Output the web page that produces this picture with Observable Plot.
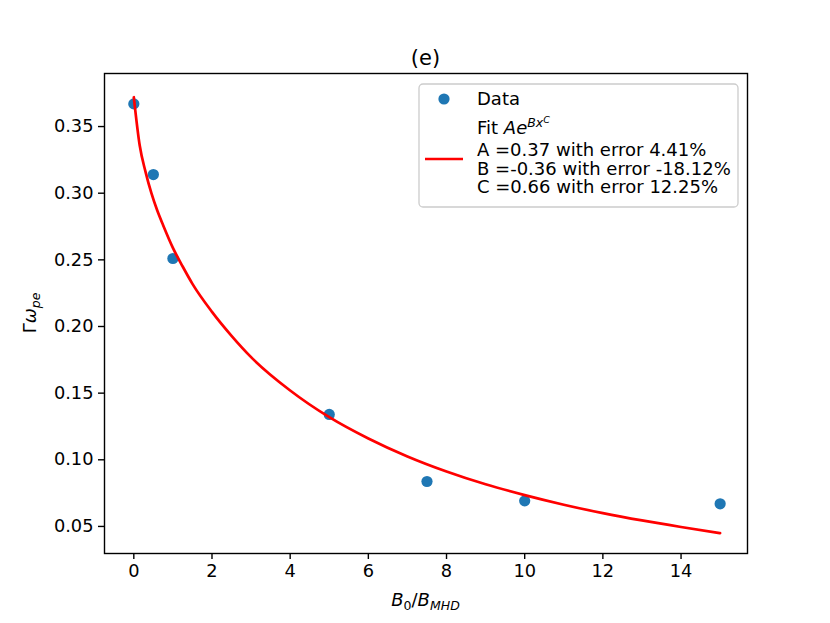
<!DOCTYPE html>
<html>
<head>
<meta charset="utf-8">
<script src="https://cdn.jsdelivr.net/npm/d3@7"></script>
<script src="https://cdn.jsdelivr.net/npm/@observablehq/plot@0.6"></script>
<style>
  html, body { margin: 0; padding: 0; background: white; }
  #chart svg { display: block; }
</style>
</head>
<body>
<div id="chart"></div>
<script>
// Measured data points
const dataX = [0, 0.5, 1, 5, 7.5, 10, 15];
const dataY = [0.367, 0.314, 0.251, 0.134, 0.0837, 0.0692, 0.0670];

// Fitted curve
const fitX = [0, 0.15, 0.3, 0.45, 0.6, 0.75, 1, 1.25, 1.5, 2, 2.5, 3, 4, 5, 6, 7, 8, 9, 10, 11, 12, 13, 14, 15];
const fitY = [0.372, 0.336, 0.316, 0.300, 0.287, 0.276, 0.259, 0.245, 0.232, 0.211, 0.193, 0.177, 0.152, 0.132, 0.116, 0.1025, 0.0912, 0.0816, 0.0735, 0.0663, 0.0600, 0.0545, 0.0496, 0.0450];

// Tick labels
const xTicks = [0, 2, 4, 6, 8, 10, 12, 14];
const yTicks = [0.05, 0.10, 0.15, 0.20, 0.25, 0.30, 0.35];

const title = "(e)";
const legendLines = ["A =0.37 with error 4.41%", "B =-0.36 with error -18.12%", "C =0.66 with error 12.25%"];

const points = dataX.map((x, i) => ({x, y: dataY[i]}));
const fit = fitX.map((x, i) => ({x, y: fitY[i]}));

const font = "'DejaVu Sans', sans-serif";

const chart = Plot.plot({
  width: 830,
  height: 623,
  marginLeft: 104,
  marginRight: 83,
  marginTop: 73,
  marginBottom: 70,
  style: {fontFamily: font, fontSize: "17.8px", color: "#000", background: "white", overflow: "visible"},
  x: {domain: [-0.75, 15.7]},
  y: {domain: [0.0297, 0.3898]},
  marks: [
    Plot.dot(points, {x: "x", y: "y", r: 5.6, fill: "#1f77b4", stroke: "none"}),
    Plot.line(fit, {x: "x", y: "y", stroke: "red", strokeWidth: 2.7, curve: "monotone-x"}),
    Plot.frame({stroke: "black", strokeWidth: 1.4}),
    Plot.axisX({ticks: xTicks, tickSize: 6, tickPadding: 5, strokeWidth: 1.4, label: null, tickFormat: d => String(d)}),
    Plot.axisY({ticks: yTicks, tickSize: 6, tickPadding: 5, strokeWidth: 1.4, label: null, tickFormat: d => d.toFixed(2)})
  ]
});

document.getElementById("chart").appendChild(chart);

const svg = d3.select(chart);

// Title
svg.append("text")
  .attr("x", 425.5).attr("y", 65)
  .attr("text-anchor", "middle")
  .attr("font-family", font).attr("font-size", 21)
  .attr("fill", "black")
  .text(title);

// Y label: Γω_pe
const yl = svg.append("text")
  .attr("transform", "translate(36,313) rotate(-90)")
  .attr("text-anchor", "middle")
  .attr("font-family", font).attr("font-size", 18).attr("fill", "black");
yl.append("tspan").text("Γ");
yl.append("tspan").attr("font-style", "italic").text("ω");
yl.append("tspan").attr("font-style", "italic").attr("font-size", 12.5).attr("dy", 4).text("pe");

// X label: B_0/B_MHD
const xl = svg.append("text")
  .attr("x", 425.5).attr("y", 606)
  .attr("text-anchor", "middle")
  .attr("font-family", font).attr("font-size", 18).attr("fill", "black");
xl.append("tspan").attr("font-style", "italic").text("B");
xl.append("tspan").attr("font-size", 12.5).attr("dy", 4).text("0");
xl.append("tspan").attr("dy", -4).text("/");
xl.append("tspan").attr("font-style", "italic").text("B");
xl.append("tspan").attr("font-style", "italic").attr("font-size", 12.5).attr("dy", 4).text("MHD");

// Legend
const lg = svg.append("g");
lg.append("rect")
  .attr("x", 419).attr("y", 84).attr("width", 319).attr("height", 123)
  .attr("rx", 4).attr("fill", "white").attr("fill-opacity", 0.8)
  .attr("stroke", "#cccccc").attr("stroke-width", 1.3);
lg.append("circle").attr("cx", 444).attr("cy", 99).attr("r", 5.6).attr("fill", "#1f77b4");
lg.append("line").attr("x1", 425).attr("x2", 463).attr("y1", 159).attr("y2", 159)
  .attr("stroke", "red").attr("stroke-width", 2.7);
lg.append("text").attr("x", 477).attr("y", 105)
  .attr("text-anchor", "start")
  .attr("font-family", font).attr("font-size", 18).attr("fill", "black")
  .text("Data");
// Fit entry as one multi-line text
const ft = lg.append("text")
  .attr("text-anchor", "start")
  .attr("font-family", font).attr("font-size", 18).attr("fill", "black");
ft.append("tspan").attr("x", 477).attr("y", 134).text("Fit ");
ft.append("tspan").attr("font-style", "italic").text("Ae");
ft.append("tspan").attr("font-style", "italic").attr("font-size", 12.5).attr("dy", -7).text("Bx");
ft.append("tspan").attr("font-style", "italic").attr("font-size", 9.5).attr("dy", -4).text("C");
legendLines.forEach((s, i) => ft.append("tspan").attr("x", 477).attr("y", 156 + i * 18.5).text(s));
</script>
</body>
</html>
